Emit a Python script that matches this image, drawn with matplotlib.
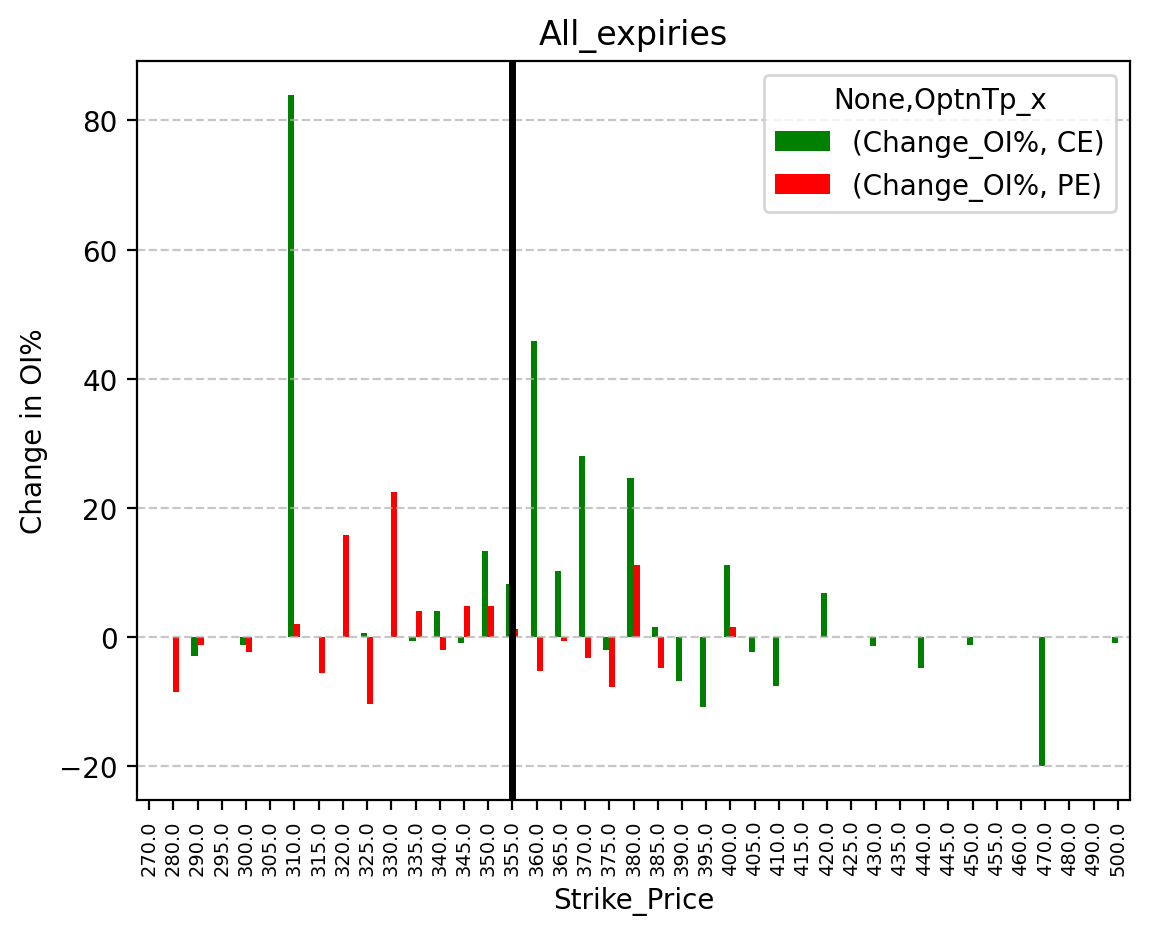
import numpy as np
import pandas as pd
import matplotlib
matplotlib.use("Agg")
import matplotlib.pyplot as plt

nan = np.nan
strikes = [270, 280, 290, 295, 300, 305, 310, 315, 320, 325, 330, 335, 340, 345,
           350, 355, 360, 365, 370, 375, 380, 385, 390, 395, 400, 405, 410, 415,
           420, 425, 430, 435, 440, 445, 450, 455, 460, 470, 480, 490, 500]
ce = [nan, nan, -2.9, nan, -1.2, nan, 84.0, nan, nan, 0.6, nan, -0.6, 4.0, -0.9,
      13.4, 8.3, 45.8, 10.2, 28.1, -2.0, 24.7, 1.5, -6.8, -10.8, 11.1, -2.3, -7.6, nan,
      6.9, nan, -1.4, nan, -4.8, nan, -1.2, nan, nan, -20.0, nan, nan, -0.9]
pe = [nan, -8.5, -1.2, nan, -2.3, nan, 2.0, -5.6, 15.8, -10.4, 22.4, 4.0, -2.0, 4.9,
      4.75, 1.3, -5.3, -0.6, -3.25, -7.7, 11.25, -4.8, nan, nan, 1.5, nan, nan, nan,
      nan, nan, nan, nan, nan, nan, nan, nan, nan, nan, nan, nan, nan]
spot_idx = 15  # 355.0

cols = pd.MultiIndex.from_tuples([("Change_OI%", "CE"), ("Change_OI%", "PE")],
                                 names=[None, "OptnTp_x"])
df = pd.DataFrame(np.column_stack([ce, pe]),
                  index=pd.Index([float(s) for s in strikes], name="Strike_Price"),
                  columns=cols)

fig, ax = plt.subplots(figsize=(5.745, 4.64), dpi=200)
fig.subplots_adjust(left=0.1192, right=0.9835, top=0.9332, bottom=0.1369)
df.plot(kind="bar", color=["green", "red"], ax=ax)
ax.axvline(spot_idx, color="black", linewidth=2.5)
ax.grid(axis="y", linestyle="--", alpha=0.7)
ax.set_title("All_expiries")
ax.set_ylabel("Change in OI%")
ax.set_xlabel("Strike_Price")
ax.tick_params(axis="x", labelsize=7)

fig.savefig("out.png", dpi=200)
